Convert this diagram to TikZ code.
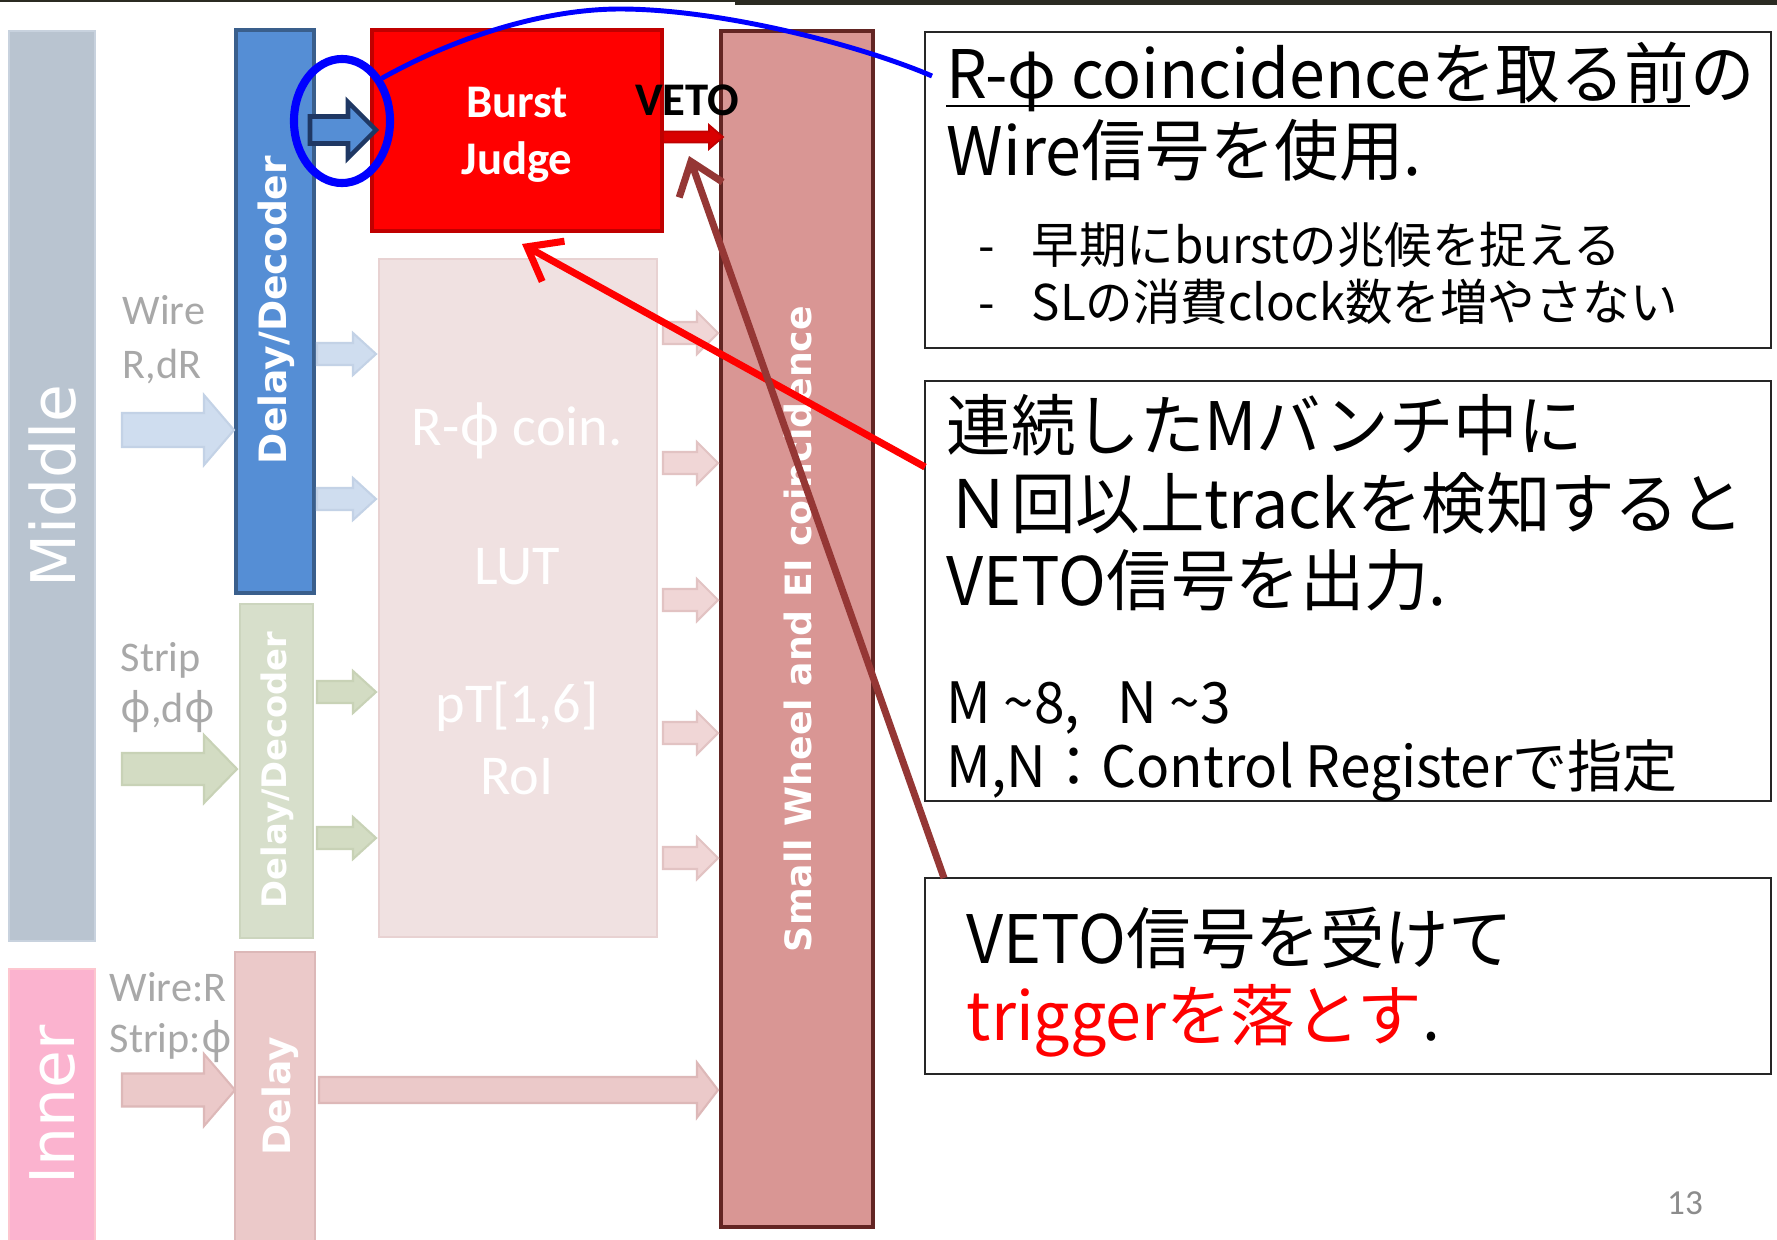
\documentclass[tikz,border=0pt]{standalone}
\usepackage{fontspec}
\setmainfont{Carlito}
\newfontfamily\jp[FakeStretch=0.965]{Noto Sans CJK JP}
\newfontfamily\dv{DejaVu Sans}
\newfontfamily\ns{Noto Sans}
\usetikzlibrary{arrows.meta,fit,shapes.geometric,calc}
\definecolor{midfill}{HTML}{B9C4D0}
\definecolor{midline}{HTML}{C8D2DE}
\definecolor{innfill}{HTML}{FBB3CF}
\definecolor{innline}{HTML}{FDC6CF}
\definecolor{ddblue}{HTML}{558ED5}
\definecolor{ddblueline}{HTML}{3A5F8C}
\definecolor{ddgreen}{HTML}{D7DFCB}
\definecolor{ddgreenline}{HTML}{CCD5BE}
\definecolor{dlpink}{HTML}{EBC9C9}
\definecolor{dlpinkline}{HTML}{DCB8B8}
\definecolor{bjline}{HTML}{C00000}
\definecolor{rphi}{HTML}{F0E1E1}
\definecolor{rphiline}{HTML}{E8D2D2}
\definecolor{swfill}{HTML}{D99694}
\definecolor{swline}{HTML}{632523}
\definecolor{arrblue}{HTML}{CFDDEF}
\definecolor{arrblueline}{HTML}{C3D2E6}
\definecolor{arrgreen}{HTML}{D3DCC3}
\definecolor{arrgreenline}{HTML}{C8D2B6}
\definecolor{arrpink}{HTML}{F0D6D6}
\definecolor{arrpinkline}{HTML}{E2C3C3}
\definecolor{innarr}{HTML}{EBC9C9}
\definecolor{innarrline}{HTML}{DDB8B8}
\definecolor{lblgray}{HTML}{A8A8A8}
\definecolor{brownc}{HTML}{953735}
\definecolor{navy}{HTML}{1F3864}
\definecolor{topdark}{HTML}{2B2B22}
\definecolor{pagegray}{HTML}{8C8C8C}
\newcommand\blkarr[7]{\filldraw[#7] (#1,{#3-#4}) -- (#6,{#3-#4}) -- (#6,{#3-#5}) -- (#2,#3) -- (#6,{#3+#5}) -- (#6,{#3+#4}) -- (#1,{#3+#4}) -- cycle;}
\tikzset{
  rbox/.style={rectangle, inner sep=0pt, outer sep=0pt},
  bigjp/.style={anchor=base west, inner sep=0pt, font=\jp\fontsize{19pt}{22pt}\selectfont},
  midjp/.style={anchor=base west, inner sep=0pt, font=\jp\fontsize{16.2pt}{19pt}\selectfont},
  smjp/.style={anchor=base west, inner sep=0pt, font=\jp\fontsize{14pt}{16pt}\selectfont},
  lbl/.style={anchor=base west, inner sep=0pt, font=\fontsize{12pt}{14pt}\selectfont, text=lblgray},
  ghost/.style={anchor=base, inner sep=0pt, font=\fontsize{16pt}{18pt}\selectfont, text=white},
  vtext/.style={rotate=90, inner sep=0pt, text=white},
  vbold/.style={vtext, font=\dv\bfseries\fontsize{10.7pt}{12pt}\selectfont},
  vbig/.style={vtext, font=\dv\fontsize{17.5pt}{20pt}\selectfont},
  conn/.style={line width=2pt, -{Straight Barb[length=0.3cm, width=0.46cm]}},
  textbox/.style={rbox, draw=black!85, line width=0.45pt, fill=white},
}
\begin{document}
\begin{tikzpicture}[x=0.01cm, y=-0.01cm]
\clip (0,0) rectangle (1777,1239);
\fill[white] (0,0) rectangle (1777,1239);
\fill[topdark] (0,0) rectangle (1777,2);
\fill[topdark] (735,0) rectangle (1777,5);

% left column bars
\node[rbox, fit={(9,31) (95,941)}, fill=midfill, draw=midline, line width=0.8pt] (mid) {};
\node[vbig] (midt) at (53,486) {Middle};
\node[rbox, fit={(9,969) (95,1260)}, fill=innfill, draw=innline, line width=0.8pt] (inn) {};
\node[vbig] (innt) at (53,1105) {Inner};

% delay/decoder boxes
\node[rbox, fit={(236,30) (314,593)}, fill=ddblue, draw=ddblueline, line width=1pt] (dd) {};
\node[vbold] (ddt) at (276,310) {Delay/Decoder};
\node[rbox, fit={(240,604) (313,938)}, fill=ddgreen, draw=ddgreenline, line width=0.8pt] (ddg) {};
\node[vtext, font=\dv\bfseries\fontsize{9.6pt}{11pt}\selectfont] (ddgt) at (277,770) {Delay/Decoder};
\node[rbox, fit={(235,952) (315,1260)}, fill=dlpink, draw=dlpinkline, line width=0.8pt] (dl) {};
\node[vbold] (dlt) at (280,1096) {Delay};

% R-phi coincidence ghost box
\node[rbox, fit={(379,259) (657,937)}, fill=rphi, draw=rphiline, line width=0.8pt] (rp) {};
\node[ghost] (rpt1) at (517,445) {R-{\ns ϕ} coin.};
\node[ghost] (rpt2) at (517,584) {LUT};
\node[ghost] (rpt3) at (517,722) {pT[1,6]};
\node[ghost] (rpt4) at (517,794) {RoI};

% Burst judge
\node[rbox, fit={(372,30) (662,231)}, fill=red, draw=bjline, line width=1pt] (bj) {};
\node[anchor=base, inner sep=0pt, text=white, font=\bfseries\fontsize{13.3pt}{15pt}\selectfont] (bjt1) at (517,117) {Burst};
\node[anchor=base, inner sep=0pt, text=white, font=\bfseries\fontsize{13.3pt}{15pt}\selectfont] (bjt2) at (517,174) {Judge};

% Small wheel
\node[rbox, fit={(721,31) (873,1227)}, fill=swfill, draw=swline, line width=1.2pt] (sw) {};
\node[vtext, font=\dv\bfseries\fontsize{10.3pt}{12pt}\selectfont] (swt) at (798,629) {Small Wheel and EI coincidence};

% labels
\node[lbl] (w1) at (122,324) {Wire};
\node[lbl] (w2) at (122,378) {R,dR};
\node[lbl] (s1) at (120,671) {Strip};
\node[lbl] (s2) at (120,722) {{\ns ϕ},d{\ns ϕ}};
\node[lbl] (i1) at (109,1001) {Wire:R};
\node[lbl] (i2) at (109,1052) {Strip:{\ns ϕ}};

% faded block arrows
\blkarr{122}{234}{430}{17}{35}{204}{fill=arrblue, draw=arrblueline, line width=0.6pt}
\blkarr{122}{237}{769}{16}{34}{204}{fill=arrgreen, draw=arrgreenline, line width=0.6pt}
\blkarr{122}{235}{1090}{16.5}{36}{204}{fill=innarr, draw=innarrline, line width=0.6pt}
\blkarr{319}{718}{1090}{13}{27.5}{697}{fill=innarr, draw=innarrline, line width=0.6pt}
\foreach \yy in {354,499}{\blkarr{317}{376}{\yy}{11}{21}{353}{fill=arrblue, draw=arrblueline, line width=0.6pt}}
\foreach \yy in {692,838}{\blkarr{317}{376}{\yy}{11}{21}{353}{fill=arrgreen, draw=arrgreenline, line width=0.6pt}}
\foreach \yy in {333,463,600,733,858}{\blkarr{663}{718}{\yy}{11}{21}{697}{fill=arrpink, draw=arrpinkline, line width=0.6pt}}

% input arrow into Burst Judge
\blkarr{310}{376}{130}{13.5}{28}{348}{fill=ddblue, draw=navy, line width=1.3pt}
% VETO arrow
\blkarr{663}{723}{137}{5.5}{12}{709}{fill=red!85!black, draw=bjline, line width=0.5pt}
\node[anchor=base, inner sep=0pt, font=\bfseries\fontsize{13.3pt}{15pt}\selectfont] (veto) at (687,115) {VETO};

% blue ellipse
\node[ellipse, draw=blue, line width=2.3pt, minimum width=0.96cm, minimum height=1.24cm, inner sep=0pt] (ell) at (342,121) {};

% text boxes
\node[textbox, fit={(925,32) (1771,348)}] (b1) {};
\node[textbox, fit={(925,381) (1771,801)}] (b2) {};
\node[textbox, fit={(925,878) (1771,1074)}] (b3) {};

% box 1 text
\node[bigjp] (l1a) at (946,98) {R-φ coincidenceを取る前};
\node[bigjp] (l1b) at (l1a.base east) {の};
\draw[line width=0.7pt] ([yshift=-0.08cm]l1a.base west) -- ([yshift=-0.08cm]l1a.base east);
\node[bigjp] (l2) at (946,175) {Wire信号を使用.};
\node[smjp] (d1) at (978,263) {-};
\node[smjp] (t1) at (1031,263) {早期にburstの兆候を捉える};
\node[smjp] (d2) at (978,320) {-};
\node[smjp] (t2) at (1031,320) {SLの消費clock数を増やさない};

% box 2 text
\node[bigjp] (m1) at (946,450) {連続したMバンチ中に};
\node[bigjp] (m2) at (946,528) {Ｎ回以上trackを検知すると};
\node[bigjp] (m3) at (946,605) {VETO信号を出力.};
\node[midjp] (m4) at (946,723) {M \textasciitilde 8,\hspace{0.45em} N \textasciitilde 3};
\node[midjp] (m5) at (946,787) {M,N：Control Registerで指定};

% box 3 text
\node[bigjp] (n1) at (966,963) {VETO信号を受けて};
\node[bigjp] (n2) at (966,1040) {{\color{red}triggerを落とす}.};

% page number
\node[inner sep=0pt, text=pagegray, font=\fontsize{10pt}{12pt}\selectfont] (pg) at (1685,1203) {13};

% connectors
\coordinate (blueE) at (932,76);
\draw[blue, line width=1.4pt] (ell.47) .. controls (450,40) and (540,9) .. (620,9) .. controls (720,9) and (860,45) .. (blueE);
\coordinate (redS) at (925,467);
\draw[conn, red] (redS) -- ($(bj.south)+(5,13)$);
\coordinate (brS) at (944,878);
\coordinate (brE) at (689,156);
\draw[conn, brownc] (brS) -- (brE);
\end{tikzpicture}
\end{document}
